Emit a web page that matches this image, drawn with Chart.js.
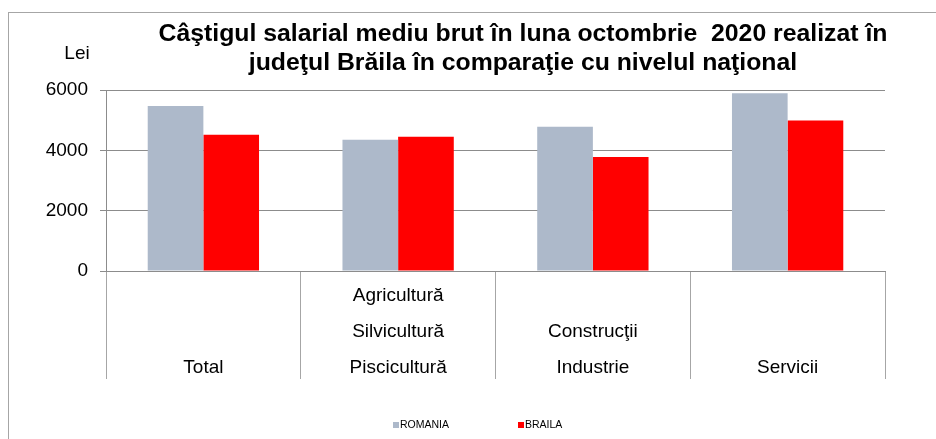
<!DOCTYPE html>
<html>
<head>
<meta charset="utf-8">
<script src="https://cdn.jsdelivr.net/npm/chart.js@4.4.1/dist/chart.umd.min.js"></script>
<style>
  html, body { margin: 0; padding: 0; background: #fff; overflow: hidden; }
  .chart-box { position: relative; width: 936px; height: 439px; }
</style>
</head>
<body>
<div class="chart-box"><canvas id="grafic"></canvas></div>
<script>
// date
const categorii = [
  ["Total"],
  ["Agricultură", "Silvicultură", "Piscicultură"],
  ["Construcţii", "Industrie"],
  ["Servicii"]
];
const romania = [5470, 4350, 4780, 5890];
const braila = [4520, 4450, 3780, 4990];
const tickuriY = [0, 2000, 4000, 6000];
const titlu = [
  "Câştigul salarial mediu brut în luna octombrie  2020 realizat în",
  "judeţul Brăila în comparaţie cu nivelul naţional"
];
const unitate = "Lei";

const FONT = "Arial, 'Liberation Sans', sans-serif";

// titlu, unitate, chenar si legenda desenate pe canvas
const decor = {
  id: 'decor',
  beforeDraw(chart) {
    const ctx = chart.ctx;
    ctx.save();
    ctx.strokeStyle = '#a6a6a6';
    ctx.lineWidth = 1;
    ctx.strokeRect(8.5, 12.5, 1000, 1000);
    ctx.restore();
  },
  afterDraw(chart) {
    const ctx = chart.ctx;
    ctx.save();
    ctx.fillStyle = '#000';
    ctx.textAlign = 'center';
    ctx.textBaseline = 'middle';
    ctx.font = "bold 24.8px " + FONT;
    titlu.forEach((t, i) => ctx.fillText(t, 523, 34 + i * 29));

    ctx.font = "19px " + FONT;
    ctx.fillText(unitate, 77, 54);

    // legenda
    ctx.font = "10.5px " + FONT;
    ctx.textAlign = 'left';
    const pozX = [393, 518];
    chart.data.datasets.forEach((ds, i) => {
      ctx.fillStyle = ds.backgroundColor;
      ctx.fillRect(pozX[i], 422, 6, 6);
      ctx.fillStyle = '#000';
      ctx.fillText(ds.label, pozX[i] + 7, 425.5);
    });
    ctx.restore();
  }
};

new Chart(document.getElementById('grafic'), {
  type: 'bar',
  data: {
    labels: categorii,
    datasets: [
      { label: 'ROMANIA', data: romania, backgroundColor: '#ADB9CA' },
      { label: 'BRAILA', data: braila, backgroundColor: '#FF0000' }
    ]
  },
  options: {
    responsive: true,
    maintainAspectRatio: false,
    animation: false,
    layout: { padding: { top: 90, right: 51, bottom: 0, left: 0 } },
    plugins: {
      legend: { display: false },
      title: { display: false },
      tooltip: { enabled: false }
    },
    datasets: {
      bar: { categoryPercentage: 0.5716, barPercentage: 1 }
    },
    scales: {
      x: {
        grid: {
          offset: true,
          drawOnChartArea: false,
          tickLength: 108,
          color: '#a6a6a6'
        },
        border: { color: '#8c8c8c' },
        ticks: {
          color: '#000',
          font: { family: FONT, size: 19, lineHeight: 1.88 },
          crossAlign: 'far',
          padding: -83,
          maxRotation: 0,
          autoSkip: false
        },
        afterFit(scale) { scale.height = 168; }
      },
      y: {
        min: 0,
        max: 6000,
        afterBuildTicks(scale) { scale.ticks = tickuriY.map(v => ({ value: v })); },
        grid: { color: '#8c8c8c', tickLength: 6 },
        border: { color: '#8c8c8c' },
        ticks: {
          color: '#000',
          font: { family: FONT, size: 19 },
          padding: 12,
          callback: v => String(v)
        },
        afterFit(scale) { scale.width = 106; }
      }
    }
  },
  plugins: [decor]
});
</script>
</body>
</html>
